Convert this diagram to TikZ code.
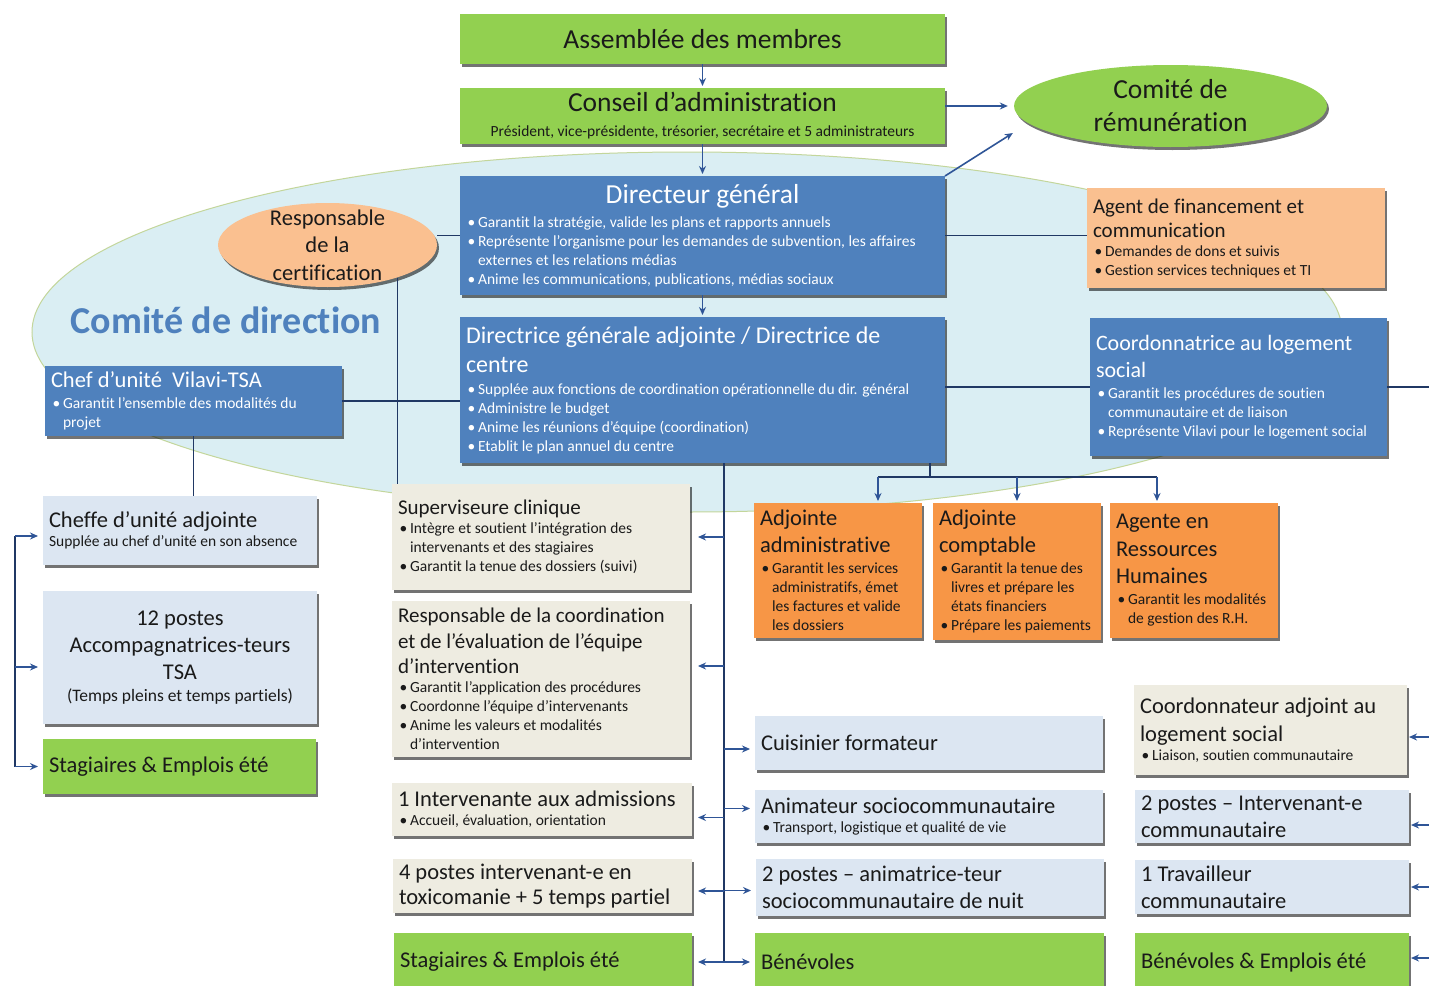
\documentclass[tikz,border=0pt]{standalone}
\usepackage{fontspec}
\setmainfont{Carlito}[Ligatures=NoCommon]
\usetikzlibrary{arrows.meta,shapes.geometric,shadows}
\definecolor{cvert}{HTML}{92D050}
\definecolor{cbleu}{HTML}{4F81BD}
\definecolor{cpeche}{HTML}{FAC090}
\definecolor{corange}{HTML}{F79646}
\definecolor{cclair}{HTML}{DCE6F2}
\definecolor{cbeige}{HTML}{EEECE1}
\definecolor{cfond}{HTML}{DAEEF3}
\definecolor{cbord}{HTML}{C3D69B}
\definecolor{cmarine}{HTML}{203864}
\definecolor{cfleche}{HTML}{2F5597}
\definecolor{ctexte}{HTML}{1A1A1A}
\setlength{\parindent}{0pt}
\newcommand\espaces{\spaceskip=0pt\xspaceskip=0pt\relax}
\newcommand\ftitre{\fontsize{27.5}{30}\selectfont\espaces}
\newcommand\fgrand{\fontsize{22.5}{27}\selectfont\espaces}
\newcommand\fmoyen{\fontsize{21}{25.5}\selectfont\espaces}
\newcommand\fpuce{\fontsize{15.5}{19}\selectfont\espaces}
\newcommand\puce[1]{\par\hangindent=0.78em\hangafter=1\noindent\makebox[0.78em][l]{\hspace{0.1em}\textbullet}#1\par}
\tikzset{
  boite/.style = {rectangle, anchor=north west, inner xsep=6pt, inner ysep=2pt,
    outer sep=0pt, execute at begin node={\raggedright\espaces}, text=ctexte,
    drop shadow={shadow xshift=2pt, shadow yshift=-3pt, fill=black, opacity=0.55}},
  centre/.style = {execute at begin node={\centering\espaces}},% texte centre
  boite_v/.style = {boite, fill=cvert},% boite verte
  boite_b/.style = {boite, fill=cbleu, text=white},% boite bleue, texte blanc
  boite_p/.style = {boite, fill=cpeche},% boite peche
  boite_o/.style = {boite, fill=corange},% boite orange
  boite_c/.style = {boite, fill=cclair},% boite bleu pale
  boite_g/.style = {boite, fill=cbeige},% boite beige
  ell_v/.style = {ellipse, fill=cvert, inner sep=0pt,
    drop shadow={shadow xshift=2pt, shadow yshift=-3pt, fill=black, opacity=0.55}},% ellipse verte
  ell_p/.style = {ellipse, fill=cpeche, inner sep=0pt,
    drop shadow={shadow xshift=2pt, shadow yshift=-3pt, fill=black, opacity=0.55}},% ellipse peche
  texte_ell/.style = {centre, text=ctexte, text width=#1pt, inner sep=0pt},% texte dans une ellipse
  taille/.style 2 args = {text width=#1pt, minimum height=#2pt},
  lien/.style = {draw=cmarine, line width=1.6pt},% trait simple
  fl/.style = {draw=cfleche, line width=1.6pt, ->, shorten >=#1},% trait avec fleche
  fl/.default = 2pt
}

\begin{document}
\begin{tikzpicture}[x=1pt, y=-1pt, >={Stealth[length=8pt,width=7pt]}]
\useasboundingbox (0,0) rectangle (1429,985);
\fill[white] (0,0) rectangle (1429,985);

% comite de direction
\node[ellipse, fill=cfond, draw=cbord, line width=1pt, minimum width=1310pt,
  minimum height=360pt] (cdir) at (687,332) {};
\node[font=\fontsize{38}{40}\selectfont\bfseries, text=cbleu] (cdirt) at (226,320) {Comité de direction};

% gouvernance
\node[boite_v, centre, taille={473}{50}, font=\ftitre] (am) at (460,14) {Assemblée des membres};
\node[boite_v, centre, taille={473}{56}] (ca) at (460,88)
  {{\ftitre Conseil d’administration\par}{\fontsize{15.5}{25}\selectfont\espaces Président, vice-présidente, trésorier, secrétaire et 5 administrateurs\par}};
\node[ell_v, minimum width=313pt, minimum height=82pt,
  label={[texte_ell=290, font=\fontsize{27.5}{33}\selectfont]center:{Comité de\\rémunération}}]
  (rem) at (1170.5,106) {};
\node[ell_p, minimum width=219pt, minimum height=84pt,
  label={[texte_ell=200, font=\fontsize{22.5}{27.5}\selectfont]center:{Responsable\\de la\\certification}}]
  (resp) at (327.5,245) {};

% direction
\node[boite_b, taille={473}{119}] (dg) at (460,176)
  {{\ftitre\centering Directeur général\par}\vspace{5pt}\fpuce
   \puce{Garantit la stratégie, valide les plans et rapports annuels}
   \puce{Représente l’organisme pour les demandes de subvention, les affaires\newline externes et les relations médias}
   \puce{Anime les communications, publications, médias sociaux}};
\node[boite_b, taille={473}{146}] (dga) at (460,317)
  {{\fontsize{24}{29}\selectfont\espaces Directrice générale adjointe / Directrice de\newline centre\par}\vspace{3pt}\fpuce
   \puce{Supplée aux fonctions de coordination opérationnelle du dir. général}
   \puce{Administre le budget}
   \puce{Anime les réunions d’équipe (coordination)}
   \puce{Etablit le plan annuel du centre}};
\node[boite_p, taille={286}{100}] (agf) at (1087,188)
  {{\fontsize{21}{24}\selectfont\espaces Agent de financement et\newline communication\par}\fpuce
   \puce{Demandes de dons et suivis}
   \puce{Gestion services techniques et TI}};
\node[boite_b, taille={285}{138}] (cls) at (1090,318)
  {{\fontsize{22}{27}\selectfont\espaces Coordonnatrice au logement\newline social\par}\vspace{2pt}\fpuce
   \puce{Garantit les procédures de soutien\newline communautaire et de liaison}
   \puce{Représente Vilavi pour le logement social}};
\node[boite_b, taille={285}{70}] (chef) at (45,366)
  {{\fgrand Chef d’unité\ \ Vilavi-TSA\par}\vspace{2pt}\fpuce
   \puce{Garantit l’ensemble des modalités du\newline projet}};

% unite TSA
\node[boite_c, taille={262}{69}] (cadj) at (43,496)
  {{\fgrand Cheffe d’unité adjointe\par}{\fpuce Supplée au chef d’unité en son absence\par}};
\node[boite_c, centre, taille={262}{133}] (tsa) at (43,591)
  {{\fgrand 12 postes\\Accompagnatrices-teurs\\TSA\par}{\fontsize{17.5}{22}\selectfont\espaces (Temps pleins et temps partiels)\par}};
\node[boite_v, taille={261}{55}, font=\fgrand] (stg1) at (43,739) {Stagiaires \& Emplois été};

% equipe d'intervention
\node[boite_g, taille={286}{106}] (sup) at (392,484)
  {{\fmoyen Superviseure clinique\par}\fpuce
   \puce{Intègre et soutient l’intégration des\newline intervenants et des stagiaires}
   \puce{Garantit la tenue des dossiers (suivi)}};
\node[boite_g, taille={286}{156}] (rco) at (392,601)
  {{\fmoyen Responsable de la coordination\newline et de l’évaluation de l’équipe\newline d’intervention\par}\fpuce
   \puce{Garantit l’application des procédures}
   \puce{Coordonne l’équipe d’intervenants}
   \puce{Anime les valeurs et modalités\newline d’intervention}};
\node[boite_g, taille={288}{53}] (intadm) at (392,783)
  {{\fgrand 1 Intervenante aux admissions\par}\fpuce
   \puce{Accueil, évaluation, orientation}};
\node[boite_g, taille={287}{54}, font=\fontsize{22.5}{24.5}\selectfont] (tox) at (393,859)
  {4 postes intervenant-e en\newline toxicomanie + 5 temps partiel};
\node[boite_v, taille={286}{58}, font=\fgrand] (stg2) at (394,933) {Stagiaires \& Emplois été};

% administration
\node[boite_o, taille={156}{135}] (adm) at (754,503)
  {{\fgrand Adjointe\newline administrative\par}\vspace{2pt}\fpuce
   \puce{Garantit les services\newline administratifs, émet\newline les factures et valide\newline les dossiers}};
\node[boite_o, taille={156}{137}] (cpt) at (933,503)
  {{\fgrand Adjointe\newline comptable\par}\vspace{2pt}\fpuce
   \puce{Garantit la tenue des\newline livres et prépare les\newline états financiers}
   \puce{Prépare les paiements}};
\node[boite_o, taille={156}{135}] (rh) at (1110,503)
  {{\fontsize{22.5}{27.5}\selectfont\espaces Agente en\newline Ressources\newline Humaines\par}\vspace{2pt}\fpuce
   \puce{Garantit les modalités\newline de gestion des R.H.}};

% vie du centre
\node[boite_c, taille={336}{54}, font=\fgrand] (cuis) at (755,716) {Cuisinier formateur};
\node[boite_c, taille={336}{53}] (anim) at (755,790)
  {{\fgrand Animateur sociocommunautaire\par}\fpuce
   \puce{Transport, logistique et qualité de vie}};
\node[boite_c, taille={336}{57}, font=\fgrand] (nuit) at (756,859)
  {2 postes – animatrice-teur\newline sociocommunautaire de nuit};
\node[boite_v, taille={337}{58}, font=\fgrand] (ben1) at (755,933) {Bénévoles};

% logement social
\node[boite_g, taille={261}{90}] (cadl) at (1134,685)
  {{\fontsize{22.5}{28}\selectfont\espaces Coordonnateur adjoint au\newline logement social\par}\fpuce
   \puce{Liaison, soutien communautaire}};
\node[boite_c, taille={262}{53}, font=\fgrand] (ic) at (1135,790)
  {2 postes – Intervenant-e\newline communautaire};
\node[boite_c, taille={262}{54}, font=\fgrand] (tc) at (1135,860)
  {1 Travailleur\newline communautaire};
\node[boite_v, taille={262}{58}, font=\fgrand] (ben2) at (1135,933) {Bénévoles \& Emplois été};

% liens du haut
\draw[fl] (am.south) -- (ca.north);
\draw[fl] (ca.south) -- (dg.north);
\draw[fl] (dg.south) -- (dga.north);
\draw[fl=6pt] ([yshift=10pt]ca.east) -- (rem.west);
\draw[fl] (dg.north east) -- ([shift={(-156,26)}]rem.center);
\draw[lien] (resp.east |- dg.west) -- (dg.west);
\draw[lien] (dg.east) -- (dg.east -| agf.west);
\draw[lien] (chef.east) -- (chef.east -| dga.west);
\draw[lien] (resp.-25) -- (resp.-25 |- sup.north);
\draw[lien] (dga.east |- cls.west) -- (cls.west);
\draw[lien] (chef.south) -- (chef.south |- cadj.north);

% colonne de gauche
\coordinate (bordg) at (15,0);
\draw[lien] ([yshift=-5.5pt]cadj.west -| bordg) -- (stg1.west -| bordg);
\draw[fl=5pt] ([yshift=-5.5pt]cadj.west -| bordg) -- ([yshift=-5.5pt]cadj.west);
\draw[fl=5pt] ([yshift=-9.5pt]tsa.west -| bordg) -- ([yshift=-9.5pt]tsa.west);
\draw[fl=5pt] (stg1.west -| bordg) -- (stg1.west);

% tronc central
\coordinate (tronc) at ([xshift=21.5pt]dga.south);
\draw[lien] (tronc) -- (tronc |- stg2.east);
\draw[fl=8pt] (sup.east -| tronc) -- (sup.east);
\draw[fl=8pt] ([yshift=13pt]rco.east -| tronc) -- ([yshift=13pt]rco.east);
\draw[fl=6pt] ([yshift=-8pt]intadm.east -| tronc) -- ([yshift=-8pt]intadm.east);
\draw[fl=6pt] ([yshift=-5pt]tox.east -| tronc) -- ([yshift=-5pt]tox.east);
\draw[fl=6pt] (stg2.east -| tronc) -- (stg2.east);
\draw[fl=5pt] ([yshift=-6pt]cuis.west -| tronc) -- ([yshift=-6pt]cuis.west);
\draw[fl=5pt] ([yshift=8pt]anim.west -| tronc) -- ([yshift=8pt]anim.west);
\draw[fl=5pt] ([yshift=-3pt]nuit.west -| tronc) -- ([yshift=-3pt]nuit.west);
\draw[fl=5pt] (ben1.west -| tronc) -- (ben1.west);

% administration
\draw[lien] ([xshift=-15pt]dga.south east) -- ++(0,14) coordinate (barre);
\draw[lien] ([xshift=40pt]adm.north |- barre) -- ([xshift=-37pt]rh.north |- barre);
\draw[fl] ([xshift=40pt]adm.north |- barre) -- ([xshift=40pt]adm.north);
\draw[fl] (cpt.north |- barre) -- (cpt.north);
\draw[fl] ([xshift=-37pt]rh.north |- barre) -- ([xshift=-37pt]rh.north);

% logement social, bord droit
\coordinate (bordd) at (1432,0);
\draw[lien] (cls.east) -- (cls.east -| bordd) -- (ben2.east -| bordd);
\draw[fl] ([yshift=-7pt]cadl.east -| bordd) -- ([yshift=-7pt]cadl.east);
\draw[fl] ([yshift=-8.5pt]ic.east -| bordd) -- ([yshift=-8.5pt]ic.east);
\draw[fl] (tc.east -| bordd) -- (tc.east);
\draw[fl] ([yshift=4pt]ben2.east -| bordd) -- ([yshift=4pt]ben2.east);
\end{tikzpicture}
\end{document}
